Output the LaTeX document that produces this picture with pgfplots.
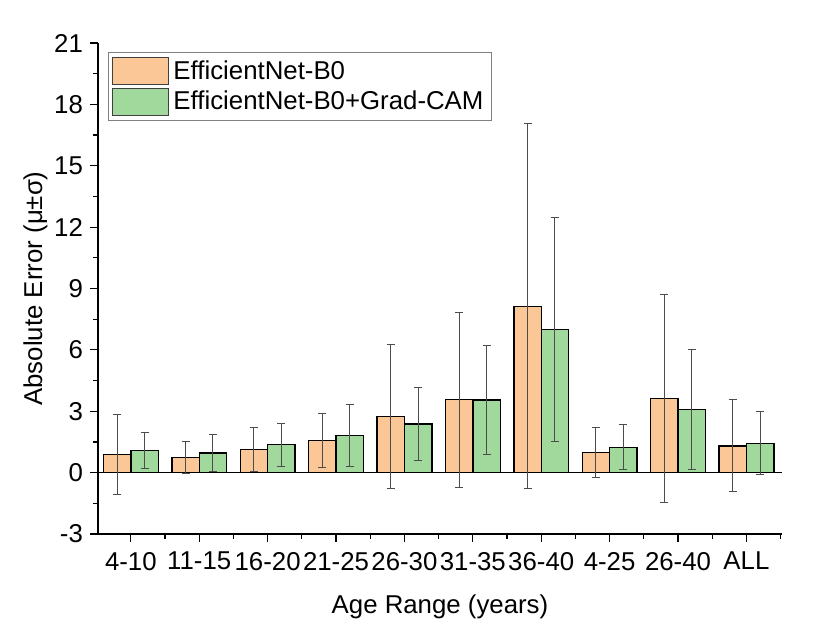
\documentclass[border=0pt]{standalone}
\usepackage{fontspec}
\setmainfont{Liberation Sans}
\usepackage{pgfplots}
\pgfplotsset{compat=1.18}
\usepackage{pgfplotstable}
\definecolor{barorange}{HTML}{FBC797}
\definecolor{bargreen}{HTML}{A1D89C}
\newcommand\ff{\fontsize{12.9}{15.4}\selectfont}

\pgfplotstableread{
idx m1 s1 m2 s2
0 0.90 1.95 1.07 0.87
1 0.73 0.78 0.96 0.90
2 1.14 1.09 1.37 1.05
3 1.56 1.33 1.81 1.53
4 2.74 3.53 2.37 1.79
5 3.56 4.28 3.54 2.65
6 8.13 8.92 6.99 5.46
7 0.99 1.23 1.23 1.10
8 3.63 5.08 3.08 2.92
9 1.31 2.24 1.43 1.54
}\agedata

\begin{document}
\begin{tikzpicture}
\path[use as bounding box] (-49pt,-51pt) rectangle (366pt,267pt);
\begin{axis}[
  scale only axis, width=342pt, height=245.5pt,
  xmin=-0.48, xmax=9.52, ymin=-3, ymax=21,
  axis x line*=bottom, axis y line*=left,
  axis line style={-, line width=0.7pt},
  xtick={0,...,9},
  xticklabels={4-10,11-15,16-20,21-25,26-30,31-35,36-40,4-25,26-40,ALL},
  minor xtick={0.5,1.5,...,9.5},
  ytick={-3,0,...,21}, minor y tick num=1,
  tick align=outside,
  major tick length=4pt, minor tick length=2.5pt,
  every tick/.style={black, line width=0.6pt},
  /pgf/number format/assume math mode=true,
  tick label style={font=\ff},
  xticklabel style={yshift=-1.5pt},
  label style={font=\ff},
  xlabel={Age Range (years)},
  xlabel style={yshift=-5.5pt},
  ylabel={Absolute Error (μ±σ)},
  ylabel style={yshift=-3.5pt},
  ybar, bar width=13.7pt,
  legend style={font=\ff, at={(0.0146,0.982)}, anchor=north west,
    draw=gray, line width=0.5pt, inner sep=2pt, row sep=0.5pt},
  legend cell align=left,
  legend image code/.code={\draw[#1, draw=black!75, line width=0.5pt] (0pt,-6.7pt) rectangle (28pt,6.7pt);},
]
\addplot[sharp plot, black, line width=0.7pt, forget plot] coordinates {(-0.48,0) (9.52,0)};
\addplot[fill=barorange, draw=black, line width=0.7pt, bar shift=-6.85pt,
  error bars/.cd, y dir=both, y explicit,
  error bar style={black!70, line width=0.5pt},
  error mark options={rotate=90, mark size=2pt, black!70, line width=0.5pt}]
  table[x=idx, y=m1, y error=s1] {\agedata};
\addlegendentry{EfficientNet-B0}
\addplot[fill=bargreen, draw=black, line width=0.7pt, bar shift=6.85pt,
  error bars/.cd, y dir=both, y explicit,
  error bar style={black!70, line width=0.5pt},
  error mark options={rotate=90, mark size=2pt, black!70, line width=0.5pt}]
  table[x=idx, y=m2, y error=s2] {\agedata};
\addlegendentry{EfficientNet-B0+Grad-CAM}
\end{axis}
\end{tikzpicture}
\end{document}
